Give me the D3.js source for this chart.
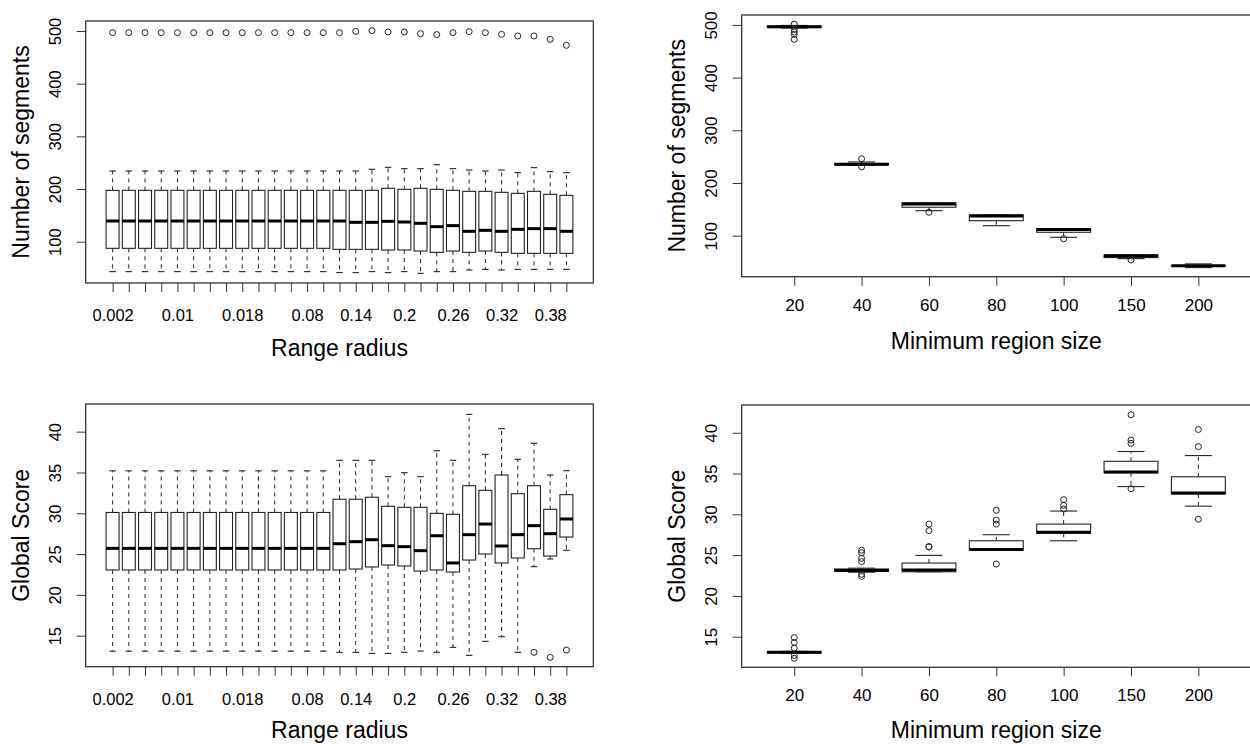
<!DOCTYPE html>
<html><head><meta charset="utf-8">
<script src="https://cdn.jsdelivr.net/npm/d3@7"></script>
<style>
body{margin:0;background:#fff}
svg text{font-family:"Liberation Sans",Arial,sans-serif;fill:#000}
</style>
</head><body>
<svg id="c" width="1250" height="744"></svg>
<script>
// ---------- categories ----------
const radiusCats = ["0.002","0.004","0.006","0.008","0.01","0.012","0.014","0.016","0.018",
  "0.02","0.04","0.06","0.08","0.1","0.12","0.14","0.16","0.18","0.2","0.22","0.24","0.26",
  "0.28","0.3","0.32","0.34","0.36","0.38","0.4"];
const radiusTickLabels = ["0.002","0.01","0.018","0.08","0.14","0.2","0.26","0.32","0.38"];
const regionCats = ["20","40","60","80","100","150","200"];
const regionTickLabels = ["20","40","60","80","100","150","200"];
const segTicks = [100,200,300,400,500];
const scoreTicks = [15,20,25,30,35,40];

// ---------- Number of segments vs Range radius ----------
const segRadLw  = [43.2,43.2,43.2,43.2,43.2,43.2,43.2,43.2,43.2,43.2,43.2,43.2,43.2,43.2,41.5,41.3,43.2,41.3,43.2,39.9,43.2,43.2,46.3,47.5,46.3,47.5,47.5,47.5,47.5];
const segRadQ1  = [87.4,87.4,87.4,87.4,87.4,87.4,87.4,87.4,87.4,87.4,87.4,87.4,87.4,87.4,85.5,85.5,85.5,84.2,84.2,82.3,79.8,82.3,79.8,82.3,79.8,77.9,77.9,77.9,77.9];
const segRadMed = [139.3,139.3,139.3,139.3,139.3,139.3,139.3,139.3,139.3,139.3,139.3,139.3,139.3,139.3,139.3,136.8,136.8,138.7,137.4,134.9,128.5,130.5,119.7,121.6,119.7,123.5,124.8,124.8,119.7];
const segRadQ3  = [197.5,197.5,197.5,197.5,197.5,197.5,197.5,197.5,197.5,197.5,197.5,197.5,197.5,197.5,197.5,197.5,197.5,201.3,199.4,201.3,199.4,197.5,195.6,195.6,193.7,191.8,195.6,189.9,188.0];
const segRadUw  = [234.2,234.2,234.2,234.2,234.2,234.2,234.2,234.2,234.2,234.2,234.2,234.2,234.2,234.2,234.2,234.2,237.4,241.2,238.7,238.7,246.3,238.7,236.1,234.2,236.1,231.1,240.6,233.0,231.1];
const segRadOut = [[496.9],[496.9],[496.9],[496.9],[496.9],[496.9],[496.9],[496.9],[496.9],[496.9],[496.9],[496.9],[496.9],[496.9],[496.9],[499.4],[500.7],[498.2],[498.2],[495.0],[493.1],[496.9],[498.8],[496.9],[493.7],[490.6],[490.6],[484.2],[472.8]];

// ---------- Global score vs Range radius ----------
const scoreRadLw  = [13.1,13.1,13.1,13.1,13.1,13.1,13.1,13.1,13.1,13.1,13.1,13.1,13.1,13.1,12.96,12.96,12.83,12.83,12.96,13.12,12.96,13.57,12.59,14.31,14.88,12.96,23.46,24.40,25.46];
const scoreRadQ1  = [23.05,23.05,23.05,23.05,23.05,23.05,23.05,23.05,23.05,23.05,23.05,23.05,23.05,23.05,23.05,23.17,23.42,23.66,23.54,22.92,23.05,22.80,24.27,25.01,23.91,24.52,25.66,24.76,27.09];
const scoreRadMed = [25.7,25.7,25.7,25.7,25.7,25.7,25.7,25.7,25.7,25.7,25.7,25.7,25.7,25.7,26.27,26.52,26.76,26.03,25.91,25.42,27.25,23.91,27.38,28.68,25.99,27.38,28.48,27.50,29.30];
const scoreRadQ3  = [30.1,30.1,30.1,30.1,30.1,30.1,30.1,30.1,30.1,30.1,30.1,30.1,30.1,30.1,31.72,31.72,31.96,30.85,30.73,30.73,29.99,29.87,33.38,32.81,34.69,32.40,33.38,30.48,32.28];
const scoreRadUw  = [35.2,35.2,35.2,35.2,35.2,35.2,35.2,35.2,35.2,35.2,35.2,35.2,35.2,35.2,36.49,36.49,36.49,34.49,34.98,34.49,37.67,36.49,42.12,37.22,40.37,36.61,38.57,34.69,35.22];
const scoreRadOut = [[],[],[],[],[],[],[],[],[],[],[],[],[],[],[],[],[],[],[],[],[],[],[],[],[],[],[12.96],[12.34],[13.24]];

// ---------- Number of segments vs Minimum region size ----------
const segRegLw  = [494, 233.5, 147.5, 119, 97, 56.5, 39.5];
const segRegQ1  = [495, 234, 154, 128.5, 106.5, 58.5, 42.5];
const segRegMed = [496.5, 235.5, 160, 137.5, 112, 62, 43];
const segRegQ3  = [498, 237, 162.5, 139.5, 113.3, 63.4, 43.5];
const segRegUw  = [499, 240, 162.5, 139.5, 113.3, 63.4, 46.5];
const segRegOut = [[501.5,491.5,486.5,482,472.5],[246,230.5],[144.5],[],[94.3],[54],[]];

// ---------- Global score vs Minimum region size ----------
const scoreRegLw  = [12.96, 22.9, 22.96, 25.62, 26.76, 33.4, 31.0];
const scoreRegQ1  = [13.0, 23.0, 22.96, 25.62, 27.67, 35.1, 32.5];
const scoreRegMed = [13.08, 23.1, 23.17, 25.7, 27.8, 35.2, 32.6];
const scoreRegQ3  = [13.16, 23.3, 24.03, 26.76, 28.8, 36.5, 34.6];
const scoreRegUw  = [13.2, 23.4, 24.97, 27.5, 30.4, 37.7, 37.2];
const scoreRegOut = [[14.9,14.3,13.6,12.7,12.35],[25.6,25.3,24.6,24.2,22.65,22.4],[26.0,26.05,28.0,28.8],[30.5,29.3,28.8,23.9],[31.8,31.1,30.65],[42.2,39.1,38.7,33.14],[40.4,38.3,29.4]];

const svg = d3.select("#c");
const STROKE = "#222";

function panel(o){
  const n = o.cats.length;
  const pad = 0.04*n;
  const x = d3.scaleLinear().domain([0.5-pad, n+0.5+pad]).range([o.left, o.right]);
  const y = d3.scaleLinear().domain(o.yDomain).range([o.bottom, o.top]);
  const g = svg.append("g");
  const bw = (x(1)-x(0))*0.8;
  const sw = bw/2;

  const labelSet = new Set(o.tickLabels);
  const xa = g.append("g").attr("transform",`translate(0,${o.bottom})`)
    .call(d3.axisBottom(x).tickValues(d3.range(1,n+1)).tickSize(9)
      .tickFormat(i => labelSet.has(o.cats[i-1]) ? o.cats[i-1] : ""));
  xa.select(".domain").remove();
  xa.selectAll(".tick line").attr("stroke","#333");
  xa.selectAll(".tick text").attr("y",o.xLabOff).attr("dy",0)
    .style("font-size",o.tickFont+"px");

  const ya = g.append("g").attr("transform",`translate(${o.left},0)`)
    .call(d3.axisLeft(y).tickValues(o.yTicks).tickSize(9));
  ya.select(".domain").remove();
  ya.selectAll(".tick line").attr("stroke","#333");
  ya.selectAll(".tick text").attr("x",0).attr("y",-24.7).attr("dy",0)
    .attr("transform","rotate(-90)").attr("text-anchor","middle")
    .style("font-size",o.tickFont+"px");

  g.append("rect").attr("x",o.left).attr("y",o.top)
    .attr("width",o.right-o.left).attr("height",o.bottom-o.top)
    .attr("fill","none").attr("stroke",STROKE).attr("stroke-width",1.2);

  const data = o.cats.map((c,i)=>({i:i+1, lw:o.lw[i], q1:o.q1[i], med:o.med[i], q3:o.q3[i], uw:o.uw[i], out:o.out[i]}));
  const b = g.append("g").selectAll("g").data(data).join("g");
  // whiskers (dashed)
  b.append("line").attr("x1",d=>x(d.i)).attr("x2",d=>x(d.i))
    .attr("y1",d=>y(d.q3)).attr("y2",d=>y(d.uw))
    .attr("stroke",STROKE).attr("stroke-dasharray","4,4");
  b.append("line").attr("x1",d=>x(d.i)).attr("x2",d=>x(d.i))
    .attr("y1",d=>y(d.q1)).attr("y2",d=>y(d.lw))
    .attr("stroke",STROKE).attr("stroke-dasharray","4,4");
  // staples
  b.append("line").attr("x1",d=>x(d.i)-sw/2).attr("x2",d=>x(d.i)+sw/2)
    .attr("y1",d=>y(d.uw)).attr("y2",d=>y(d.uw)).attr("stroke",STROKE).attr("stroke-width",1.1);
  b.append("line").attr("x1",d=>x(d.i)-sw/2).attr("x2",d=>x(d.i)+sw/2)
    .attr("y1",d=>y(d.lw)).attr("y2",d=>y(d.lw)).attr("stroke",STROKE).attr("stroke-width",1.1);
  // box
  b.append("rect").attr("x",d=>x(d.i)-bw/2).attr("width",bw)
    .attr("y",d=>y(d.q3)).attr("height",d=>Math.max(0.5,y(d.q1)-y(d.q3)))
    .attr("fill","#fff").attr("stroke",STROKE).attr("stroke-width",1.1);
  // median
  b.append("line").attr("x1",d=>x(d.i)-bw/2).attr("x2",d=>x(d.i)+bw/2)
    .attr("y1",d=>y(d.med)).attr("y2",d=>y(d.med)).attr("stroke","#000").attr("stroke-width",3);
  // outliers
  b.selectAll("circle").data(d=>d.out.map(v=>({i:d.i,v}))).join("circle")
    .attr("cx",d=>x(d.i)).attr("cy",d=>y(d.v)).attr("r",3)
    .attr("fill","none").attr("stroke",STROKE).attr("stroke-width",1);

  g.append("text").attr("x",(o.left+o.right)/2).attr("y",o.bottom+o.xTitleOff)
    .attr("text-anchor","middle").style("font-size","23px").text(o.xTitle);
  g.append("text").attr("transform",`translate(${o.left-o.yTitleOff},${(o.top+o.bottom)/2}) rotate(-90)`)
    .attr("text-anchor","middle").style("font-size","23px").text(o.yTitle);
}

panel({left:85.7,right:593.3,top:21,bottom:283,yDomain:[21.6,519],
  cats:radiusCats,tickLabels:radiusTickLabels,yTicks:segTicks,
  lw:segRadLw,q1:segRadQ1,med:segRadMed,q3:segRadQ3,uw:segRadUw,out:segRadOut,
  xTitle:"Range radius",yTitle:"Number of segments",tickFont:16.5,xLabOff:38,xTitleOff:73,yTitleOff:57});
panel({left:85.7,right:593.3,top:404,bottom:666.7,yDomain:[11.2,43.39],
  cats:radiusCats,tickLabels:radiusTickLabels,yTicks:scoreTicks,
  lw:scoreRadLw,q1:scoreRadQ1,med:scoreRadMed,q3:scoreRadQ3,uw:scoreRadUw,out:scoreRadOut,
  xTitle:"Range radius",yTitle:"Global Score",tickFont:16.5,xLabOff:38,xTitleOff:71,yTitleOff:57});
panel({left:741.7,right:1250.9,top:15,bottom:276.7,yDomain:[22.2,518.8],
  cats:regionCats,tickLabels:regionTickLabels,yTicks:segTicks,
  lw:segRegLw,q1:segRegQ1,med:segRegMed,q3:segRegQ3,uw:segRegUw,out:segRegOut,
  xTitle:"Minimum region size",yTitle:"Number of segments",tickFont:17,xLabOff:34,xTitleOff:72,yTitleOff:57});
panel({left:741.7,right:1250.9,top:405,bottom:667.3,yDomain:[11.25,43.4],
  cats:regionCats,tickLabels:regionTickLabels,yTicks:scoreTicks,
  lw:scoreRegLw,q1:scoreRegQ1,med:scoreRegMed,q3:scoreRegQ3,uw:scoreRegUw,out:scoreRegOut,
  xTitle:"Minimum region size",yTitle:"Global Score",tickFont:17,xLabOff:34,xTitleOff:71,yTitleOff:57});
</script>
</body></html>
